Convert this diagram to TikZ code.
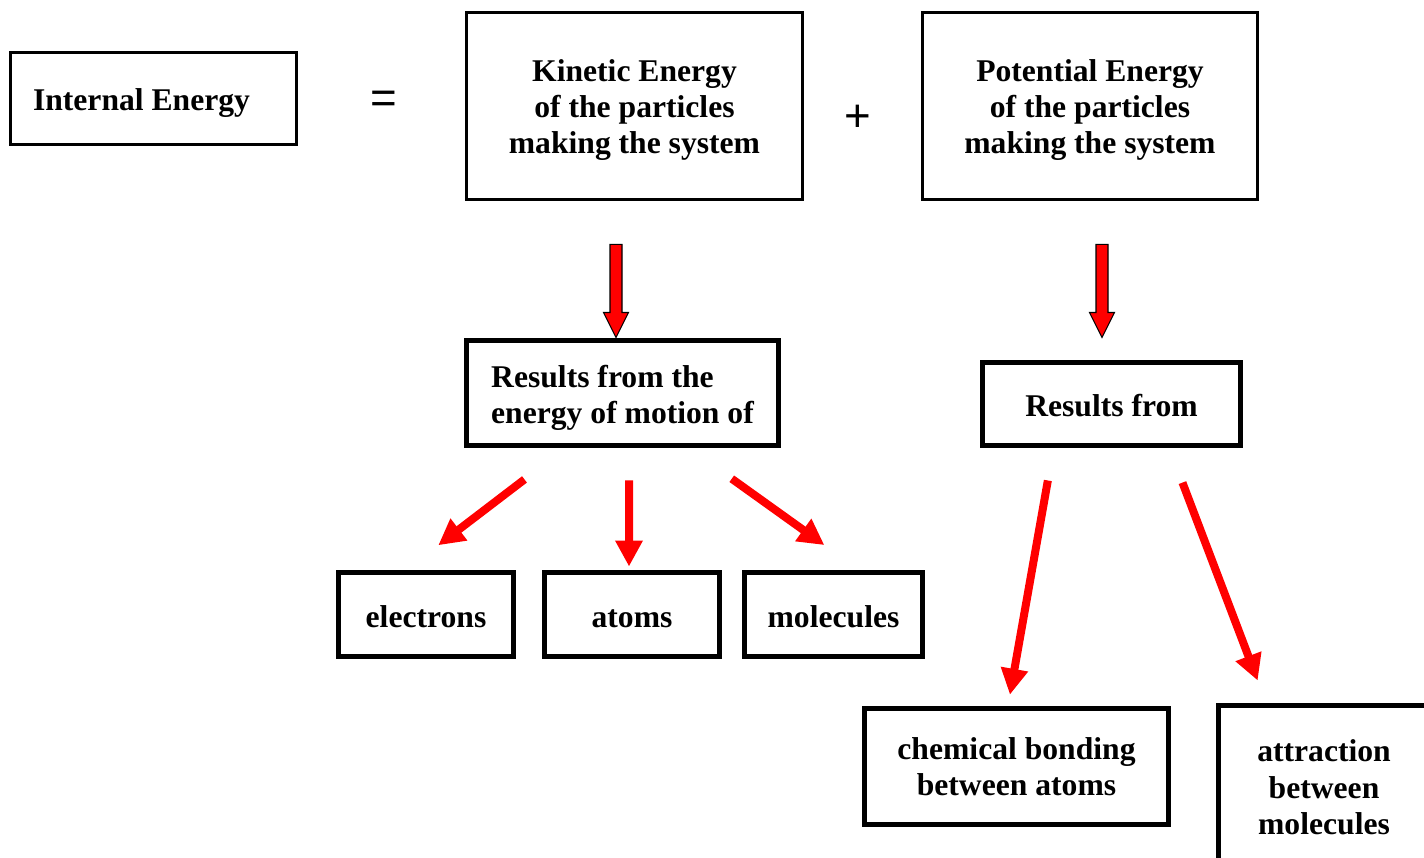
\documentclass[tikz,border=0pt]{standalone}
\usepackage{fontspec}
\setmainfont{Liberation Serif}
\newfontfamily\opfont{Liberation Sans}
\usetikzlibrary{arrows.meta,calc}
\tikzset{
	box/.style={draw, line width=0.06cm, align=center, inner sep=0pt,
		font=\fontsize{18}{20.7}\selectfont\bfseries},
	thickbox/.style={box, line width=0.1cm},
	oneline/.style={text height=#1, text depth=0pt},
	redarrow/.style={red, line width=0.16cm,
		-{Triangle[length=0.52cm,width=0.52cm]}},
	blockarrow/.style={draw=black, line width=0.6pt, fill=red},
	op/.style={font=\opfont\fontsize{26}{30}\selectfont},
}
% invisible strut that pushes a text block down
\newcommand{\padtop}[1]{\rule{0pt}{#1}}
% block arrow with its tip on the second point
\newcommand{\blockarrow}[2]{%
	\draw [blockarrow] ($(#1)+(-0.12cm,0)$) -- ($(#2)+(-0.12cm,0.5cm)$)
		-- ($(#2)+(-0.25cm,0.5cm)$) -- (#2) -- ($(#2)+(0.25cm,0.5cm)$)
		-- ($(#2)+(0.12cm,0.5cm)$) -- ($(#1)+(0.12cm,0)$) -- cycle;}
\begin{document}
\begin{tikzpicture}[x=0.02cm, y=-0.02cm]
	\clip (0,0) rectangle (1424,858);
	\fill [white] (0,0) rectangle (1424,858);
	% top line
	\node [box, minimum height=1.86cm, inner xsep=0.46cm,
		text height=17.9pt, text depth=3.9pt] (ie) at (153.5,98.5) {\makebox[4.82cm][l]{Internal Energy}};
	\node [op] (eq) at (384,102) {=};
	\node [box, minimum width=6.74cm, minimum height=3.76cm] (kin) at (634.5,106)
		{\padtop{17pt}Kinetic Energy\\of the particles\\making the system};
	\node [op] (plus) at (858,118) {+};
	\node [box, minimum width=6.72cm, minimum height=3.76cm] (pot) at (1090,106)
		{\padtop{17pt}Potential Energy\\of the particles\\making the system};
	% second line
	\node [thickbox, align=left, minimum width=6.26cm, minimum height=2.12cm] (res1) at (622.5,393)
		{\padtop{18pt}Results from the\\energy of motion of};
	\node [thickbox, oneline=14.5pt, minimum width=5.18cm, minimum height=1.68cm] (res2) at (1111.5,404) {Results from};
	% kinetic side
	\node [thickbox, oneline=14.5pt, minimum width=3.52cm, minimum height=1.70cm] (elec) at (426,614.5) {electrons};
	\node [thickbox, oneline=14.5pt, minimum width=3.52cm, minimum height=1.70cm] (atoms) at (632,614.5) {atoms};
	\node [thickbox, oneline=14.5pt, minimum width=3.58cm, minimum height=1.70cm] (mol) at (833.5,614.5) {molecules};
	% potential side
	\node [thickbox, minimum width=6.10cm, minimum height=2.34cm] (chem) at (1016.5,766.5)
		{chemical bonding\\between atoms};
	\node [thickbox, minimum width=4.24cm, minimum height=3.30cm] (attr) at (1324,787.5)
		{attraction\\between\\molecules};
	% block arrows
	\coordinate (k0) at ([xshift=-0.37cm, yshift=-0.86cm]kin.south);
	\coordinate (k1) at (k0 |- res1.north);
	\blockarrow{k0}{k1}
	\coordinate (p0) at ([xshift=0.24cm, yshift=-0.86cm]pot.south);
	\coordinate (p1) at ([yshift=0.44cm]p0 |- res2.north);
	\blockarrow{p0}{p1}
	% red arrows
	\draw [redarrow, shorten <=1.02cm, shorten >=0.8cm] ([xshift=-1.15cm]res1.south) -- ([xshift=-0.39cm]elec.north);
	\draw [redarrow, shorten <=0.64cm, shorten >=0.06cm] ([xshift=0.13cm]res1.south) -- ([xshift=-0.06cm]atoms.north);
	\draw [redarrow, shorten <=1.04cm, shorten >=0.84cm] ([xshift=1.34cm]res1.south) -- ([xshift=0.5cm]mol.north);
	\draw [redarrow, shorten <=0.65cm, shorten >=0.22cm] ([xshift=-1.16cm]res2.south) -- ([xshift=-0.17cm]chem.north);
	\draw [redarrow, shorten <=0.73cm, shorten >=0.47cm] ([xshift=1.16cm]res2.south) -- ([xshift=-1.16cm]attr.north);
\end{tikzpicture}
\end{document}
